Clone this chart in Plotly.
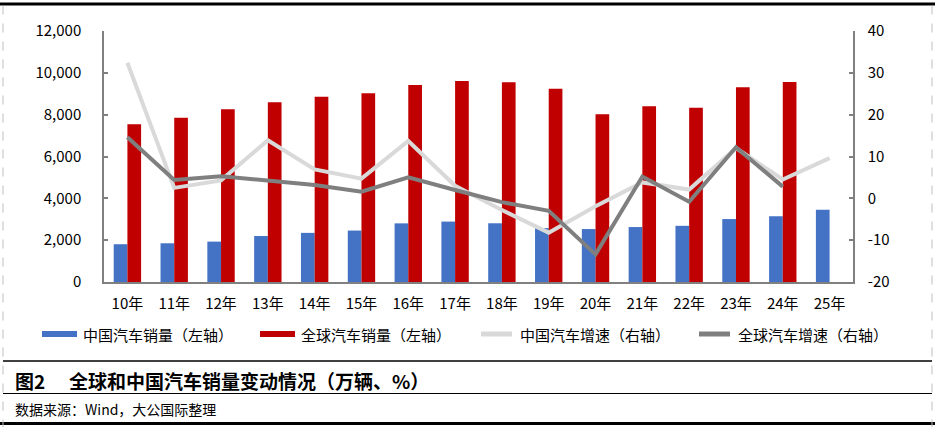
import plotly.graph_objects as go

# ---- data ----
years = ["10年", "11年", "12年", "13年", "14年", "15年", "16年", "17年",
         "18年", "19年", "20年", "21年", "22年", "23年", "24年", "25年"]
china_sales = [1806, 1851, 1931, 2198, 2349, 2460, 2803, 2888,
               2808, 2577, 2531, 2627, 2686, 3009, 3144, 3450]
global_sales = [7540, 7857, 8255, 8590, 8860, 9020, 9418, 9610,
                9546, 9243, 8016, 8398, 8335, 9306, 9562, None]
china_growth = [32.4, 2.5, 4.3, 13.9, 6.9, 4.7, 13.7, 3.0,
                -2.8, -8.2, -1.9, 3.8, 2.1, 12.0, 4.5, 9.6]
global_growth = [14.6, 4.4, 5.3, 4.3, 3.2, 1.6, 5.0, 2.0,
                 -0.9, -3.0, -13.4, 5.2, -0.8, 12.2, 2.8, None]

left_ticks = [0, 2000, 4000, 6000, 8000, 10000, 12000]
right_ticks = [-20, -10, 0, 10, 20, 30, 40]
right_ticktext = ["-20", "-10", "0", "10", "20", "30", "40"]

names = ["中国汽车销量（左轴）", "全球汽车销量（左轴）", "中国汽车增速（右轴）", "全球汽车增速（右轴）"]
title_num = "图2"
title_text = "全球和中国汽车销量变动情况（万辆、%）"
source_text = "数据来源：Wind，大公国际整理"

# ---- style ----
BLUE = "#4472C4"
RED = "#C00000"
LGRAY = "#D9D9D9"
DGRAY = "#7F7F7F"
AX = "#808080"
FONT = "Noto Sans CJK SC"

W, H = 935, 427
X0, X1 = 104.0, 853.0
Y0, Y1 = 31.0, 282.0


def px(x):
    return (x - X0) / (X1 - X0)


def py(y):
    return (Y1 - y) / (Y1 - Y0)


fig = go.Figure()
fig.add_trace(go.Bar(x=years, y=china_sales, name=names[0], marker_color=BLUE,
                     marker_line_width=0, showlegend=False))
fig.add_trace(go.Bar(x=years, y=global_sales, name=names[1], marker_color=RED,
                     marker_line_width=0, showlegend=False))
fig.add_trace(go.Scatter(x=years, y=china_growth, name=names[2], mode="lines",
                         line=dict(color=LGRAY, width=4), yaxis="y2", showlegend=False))
fig.add_trace(go.Scatter(x=years, y=global_growth, name=names[3], mode="lines",
                         line=dict(color=DGRAY, width=4), yaxis="y2", showlegend=False))

shapes = []
annotations = []

# legend (manual)
leg_y = 334
leg_items = [
    (42, 77, 81, BLUE, "rect"),
    (260, 295, 299, RED, "rect"),
    (479, 514, 518, LGRAY, "line"),
    (697, 732, 736, DGRAY, "line"),
]
for (xa, xb, xt, col, kind), nm in zip(leg_items, names):
    if kind == "rect":
        shapes.append(dict(type="rect", xref="paper", yref="paper",
                           x0=px(xa), x1=px(xb), y0=py(leg_y + 3), y1=py(leg_y - 3),
                           fillcolor=col, line=dict(width=0), layer="above"))
    else:
        shapes.append(dict(type="line", xref="paper", yref="paper",
                           x0=px(xa + 2), x1=px(xb - 2), y0=py(leg_y), y1=py(leg_y),
                           line=dict(color=col, width=5), layer="above"))
    annotations.append(dict(xref="paper", yref="paper", x=px(xt), y=py(leg_y),
                            text=nm, showarrow=False, xanchor="left", yanchor="middle",
                            font=dict(family=FONT, size=15, color="#000000")))

# frame lines
shapes += [
    dict(type="line", xref="paper", yref="paper", x0=px(0), x1=px(935), y0=py(4), y1=py(4),
         line=dict(color="#000000", width=3)),
    dict(type="line", xref="paper", yref="paper", x0=px(3), x1=px(932), y0=py(361), y1=py(361),
         line=dict(color="#000000", width=1.3)),
    dict(type="line", xref="paper", yref="paper", x0=px(3), x1=px(932), y0=py(393.5), y1=py(393.5),
         line=dict(color="#000000", width=1)),
    dict(type="line", xref="paper", yref="paper", x0=px(0), x1=px(935), y0=py(423.5), y1=py(423.5),
         line=dict(color="#000000", width=3)),
    dict(type="line", xref="paper", yref="paper", x0=px(3), x1=px(3), y0=py(5.5), y1=py(427),
         line=dict(color="#BFBFBF", width=1, dash="dash")),
    dict(type="line", xref="paper", yref="paper", x0=px(932), x1=px(932), y0=py(5.5), y1=py(427),
         line=dict(color="#BFBFBF", width=1, dash="dash")),
]

annotations += [
    dict(xref="paper", yref="paper", x=px(13), y=py(380), text="<b>" + title_num + "</b>",
         showarrow=False, xanchor="left", yanchor="middle",
         font=dict(family=FONT, size=19, color="#000000")),
    dict(xref="paper", yref="paper", x=px(67), y=py(380), text="<b>" + title_text + "</b>",
         showarrow=False, xanchor="left", yanchor="middle",
         font=dict(family=FONT, size=19, color="#000000")),
    dict(xref="paper", yref="paper", x=px(13), y=py(409), text=source_text,
         showarrow=False, xanchor="left", yanchor="middle",
         font=dict(family=FONT, size=14, color="#000000")),
]

fig.update_layout(
    template="none",
    width=W, height=H,
    margin=dict(l=X0, r=W - X1, t=Y0, b=H - Y1, pad=0),
    paper_bgcolor="#FFFFFF", plot_bgcolor="#FFFFFF",
    barmode="group", bargap=0.415, bargroupgap=0,
    font=dict(family=FONT, size=15, color="#000000"),
    showlegend=False,
    xaxis=dict(type="category", showgrid=False, zeroline=False, showline=True,
               linecolor=AX, linewidth=1.5, ticks="", ticklabelstandoff=7,
               tickfont=dict(family=FONT, size=15, color="#000000"), automargin=False,
               range=[-0.5, len(years) - 0.5]),
    yaxis=dict(range=[0, 12000], tickvals=left_ticks, tickformat=",", showgrid=False,
               zeroline=False, showline=True, linecolor=AX, linewidth=1.5,
               ticks="inside", ticklen=4, tickcolor=AX, tickwidth=1.5,
               ticklabelstandoff=18, automargin=False,
               tickfont=dict(family=FONT, size=15, color="#000000")),
    yaxis2=dict(range=[-20, 40], tickvals=right_ticks, ticktext=right_ticktext,
                overlaying="y", side="right", showgrid=False, zeroline=False,
                showline=True, linecolor=AX, linewidth=1.5,
                ticks="inside", ticklen=4, tickcolor=AX, tickwidth=1.5,
                ticklabelstandoff=10, automargin=False,
                tickfont=dict(family=FONT, size=15, color="#000000")),
    shapes=shapes,
    annotations=annotations,
)

fig.write_html("out.html", config={"displayModeBar": False},
               post_script="document.body.style.margin='0';document.body.style.overflow='hidden';")
